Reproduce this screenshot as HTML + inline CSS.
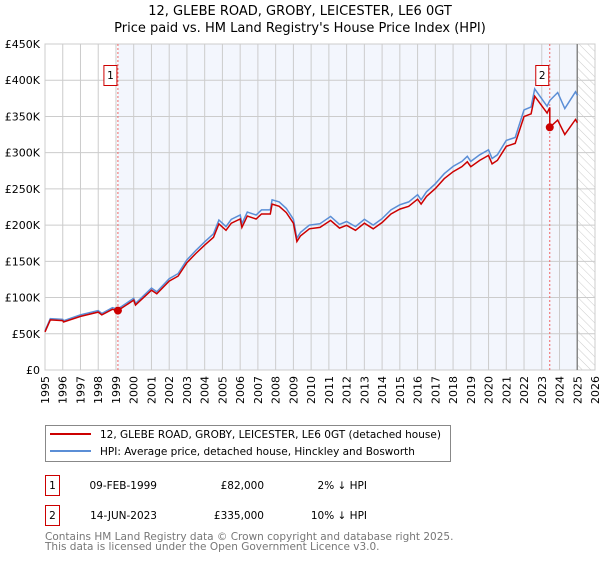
<!DOCTYPE html>
<html><head><meta charset="utf-8"><style>
body{margin:0;background:#fff;font-family:"DejaVu Sans","Liberation Sans",sans-serif}
svg text{font-family:"DejaVu Sans","Liberation Sans",sans-serif}
</style></head><body>
<svg width="600" height="560" viewBox="0 0 600 560" xmlns="http://www.w3.org/2000/svg">
<defs><pattern id="hatch" width="6" height="6" patternUnits="userSpaceOnUse" patternTransform="rotate(-45)"><line x1="0" y1="0" x2="0" y2="6" stroke="#ccc" stroke-width="1"/></pattern></defs>
<text x="300" y="15" text-anchor="middle" font-size="13">12, GLEBE ROAD, GROBY, LEICESTER, LE6 0GT</text>
<text x="300" y="32" text-anchor="middle" font-size="13">Price paid vs. HM Land Registry's House Price Index (HPI)</text>
<g id="plot"></g>
<rect x="45.5" y="425.5" width="405" height="36" fill="#fff" stroke="#888"/>
<line x1="50" y1="434" x2="91" y2="434" stroke="#cc0000" stroke-width="2"/>
<text x="100" y="438" font-size="10.5">12, GLEBE ROAD, GROBY, LEICESTER, LE6 0GT (detached house)</text>
<line x1="50" y1="451" x2="91" y2="451" stroke="#5b8ed6" stroke-width="2"/>
<text x="100" y="455" font-size="10.5">HPI: Average price, detached house, Hinckley and Bosworth</text>
<g font-size="10.5">
<rect x="45.5" y="475.5" width="14" height="20" fill="#fff" stroke="#cc0000"/>
<text x="52.5" y="489" text-anchor="middle">1</text>
<text x="157" y="489" text-anchor="end">09-FEB-1999</text>
<text x="264" y="489" text-anchor="end">£82,000</text>
<text x="367" y="489" text-anchor="end">2% ↓ HPI</text></g>
<g font-size="10.5">
<rect x="45.5" y="505.5" width="14" height="20" fill="#fff" stroke="#cc0000"/>
<text x="52.5" y="519" text-anchor="middle">2</text>
<text x="157" y="519" text-anchor="end">14-JUN-2023</text>
<text x="264" y="519" text-anchor="end">£335,000</text>
<text x="367" y="519" text-anchor="end">10% ↓ HPI</text></g>
<text x="45" y="540" font-size="10.5" fill="#777">Contains HM Land Registry data © Crown copyright and database right 2025.</text>
<text x="45" y="550" font-size="10.5" fill="#777">This data is licensed under the Open Government Licence v3.0.</text>
</svg>
<script>
const years=[1995,1995.3,1996,1996.05,1997,1998,1998.2,1998.8,1999.1,2000,2000.1,2001,2001.3,2002,2002.5,2003,2003.5,2004,2004.5,2004.8,2005.2,2005.5,2006,2006.1,2006.4,2006.9,2007.2,2007.7,2007.8,2008.2,2008.6,2009,2009.2,2009.4,2009.9,2010.5,2011.1,2011.6,2012,2012.5,2013,2013.5,2014,2014.5,2015,2015.5,2016,2016.2,2016.5,2017,2017.5,2018,2018.5,2018.8,2019,2019.5,2020,2020.2,2020.5,2021,2021.5,2022,2022.4,2022.6,2023.3,2023.45,2023.9,2024.3,2024.9,2025];
const hpi=[54,71,70,68,76,82,78,86,84,99,92,113,108,126,133,152,165,177,188,207,198,208,214,202,218,214,221,221,235,232,223,208,182,190,200,202,212,201,205,198,208,200,209,221,228,232,242,235,246,257,271,281,288,295,288,297,304,292,297,317,321,359,363,388,364,372,383,361,384,379];
const sales=[{year:1999.11,price:82,label:"1"},{year:2023.45,price:335,label:"2"}];
const yTicks=[0,50,100,150,200,250,300,350,400,450];
const yLabels=["£0","£50K","£100K","£150K","£200K","£250K","£300K","£350K","£400K","£450K"];
const xTicks=[];for(let y=1995;y<=2026;y++)xTicks.push(y);
const X0=45,X1=595,Y0=370,Y1=44;
const xs=v=>X0+(v-1995)/31*(X1-X0);
const ys=v=>Y0-v/450*(Y0-Y1);
const NS="http://www.w3.org/2000/svg",g=document.getElementById('plot');
function mk(t,a){const e=document.createElementNS(NS,t);for(const k in a)e.setAttribute(k,a[k]);g.appendChild(e);return e;}
let e=mk('rect',{x:xs(sales[0].year),y:Y1,width:xs(2025)-xs(sales[0].year),height:Y0-Y1,fill:'#f3f6fd'});


e=mk('rect',{x:xs(2025),y:Y1,width:X1-xs(2025),height:Y0-Y1,fill:'url(#hatch)'});


xTicks.forEach(t=>{mk('line',{x1:xs(t),y1:Y1,x2:xs(t),y2:Y0,stroke:'#ccc','stroke-width':1});
const tx=mk('text',{x:0,y:0,'font-size':11,'text-anchor':'end',transform:`translate(${xs(t)+4},${Y0+6}) rotate(-90)`});tx.textContent=t;

});
yTicks.forEach((t,i)=>{mk('line',{x1:X0,y1:ys(t),x2:X1,y2:ys(t),stroke:'#ccc','stroke-width':1});
const tx=mk('text',{x:40,y:ys(t)+4,'font-size':11,'text-anchor':'end'});tx.textContent=yLabels[i];

});
mk('rect',{x:X0,y:Y1,width:X1-X0,height:Y0-Y1,fill:'none',stroke:'#ccc'});
mk('line',{x1:xs(2025),y1:Y1,x2:xs(2025),y2:Y0,stroke:'#888','stroke-width':1.5});
sales.forEach(s=>{const l=mk('line',{x1:xs(s.year),y1:Y1,x2:xs(s.year),y2:Y0,stroke:'#e66','stroke-width':1,'stroke-dasharray':'2,2'});

});
function hpiAt(y){for(let i=1;i<years.length;i++)if(years[i]>=y){const f=(y-years[i-1])/(years[i]-years[i-1]);return hpi[i-1]+f*(hpi[i]-hpi[i-1]);}return hpi[hpi.length-1];}
const r1=sales[0].price/hpiAt(sales[0].year),r2=sales[1].price/hpiAt(sales[1].year);
let pb=years.map((y,i)=>`${xs(y).toFixed(1)},${ys(hpi[i]).toFixed(1)}`).join(' ');
e=mk('polyline',{points:pb,fill:'none',stroke:'#5b8ed6','stroke-width':1.5});


let pr=[];years.forEach((y,i)=>{if(y<sales[1].year)pr.push([y,hpi[i]*r1]);else if(y===sales[1].year){pr.push([y,hpi[i]*r1]);pr.push([y,hpi[i]*r2]);}else pr.push([y,hpi[i]*r2]);});
e=mk('polyline',{points:pr.map(p=>`${xs(p[0]).toFixed(1)},${ys(p[1]).toFixed(1)}`).join(' '),fill:'none',stroke:'#cc0000','stroke-width':1.5});


sales.forEach(s=>{const c=mk('circle',{cx:xs(s.year),cy:ys(s.price),r:4,fill:'#cc0000'});


const b=mk('rect',{x:xs(s.year)-14,y:65.5,width:13,height:20,fill:'#fff',stroke:'#cc0000'});


const t=mk('text',{x:xs(s.year)-7.5,y:79,'font-size':10.5,'text-anchor':'middle'});t.textContent=s.label;

});
</script>
</body></html>
